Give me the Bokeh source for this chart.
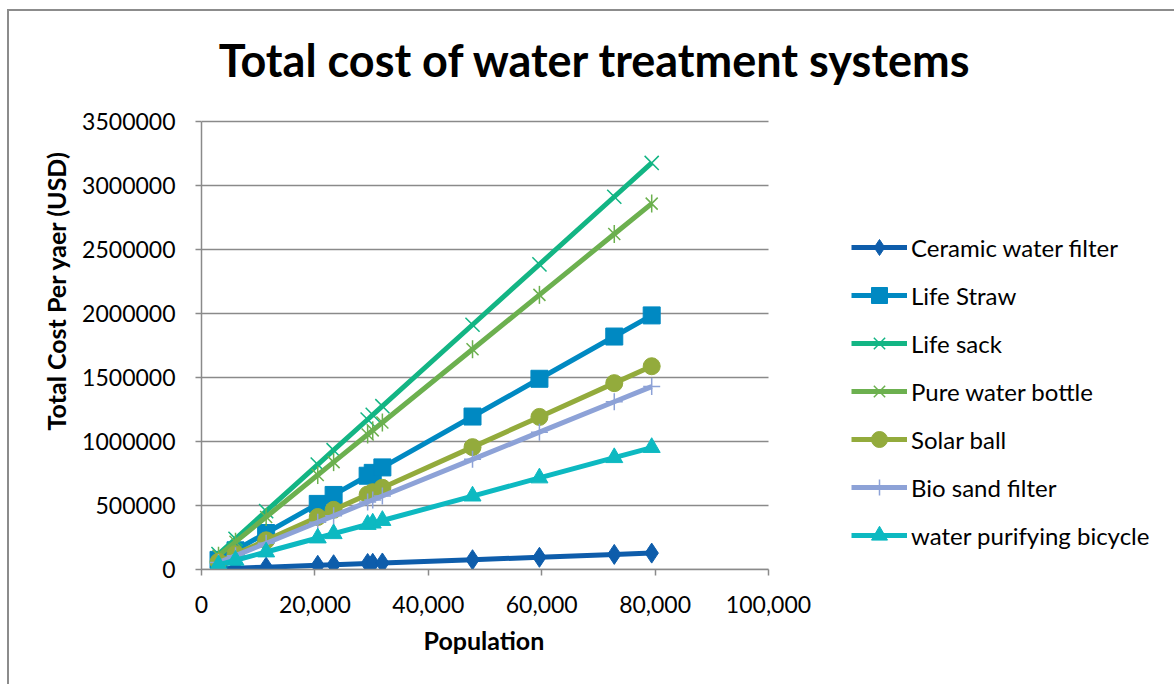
import numpy as np
from bokeh.plotting import figure
from bokeh.models import (Range1d, FixedTicker, NumeralTickFormatter, BasicTickFormatter,
                          Legend, LegendItem, Title, Label)
from bokeh.embed import file_html
from bokeh.resources import INLINE

# Population served (x) and yearly total cost (USD) per treatment system
population = [3000, 6000, 11400, 20500, 23300, 29300, 30200, 31900, 47800, 59600, 72800, 79400]

ceramic_water_filter = [4800, 9600, 18200, 32800, 37300, 46900, 48300, 51000, 76500, 95400, 118000, 128000]
life_straw = [75000, 150000, 285000, 512500, 582500, 732500, 755000, 797500, 1195000, 1490000, 1820000, 1985000]
life_sack = [120000, 240000, 456000, 820000, 932000, 1172000, 1208000, 1276000, 1912000, 2384000, 2912000, 3176000]
pure_water_bottle = [108000, 216000, 410400, 738000, 838800, 1054800, 1087200, 1148400, 1720800, 2145600, 2620800, 2858400]
solar_ball = [60000, 120000, 228000, 410000, 466000, 586000, 604000, 638000, 956000, 1192000, 1456000, 1588000]
bio_sand_filter = [54000, 108000, 205200, 369000, 419400, 527400, 543600, 574200, 860400, 1072800, 1310400, 1429200]
water_purifying_bicycle = [36000, 72000, 136800, 246000, 279600, 351600, 362400, 382800, 573600, 715200, 873600, 952800]

x_ticks = [0, 20000, 40000, 60000, 80000, 100000]
y_ticks = [0, 500000, 1000000, 1500000, 2000000, 2500000, 3000000, 3500000]

FONT = "Lato"
GRID = "#8a8a8a"

# Layout in pixels: the data area spans 567 px for 100,000 people and
# 448 px for 3,500,000 USD; the drawing frame is extended to the right and
# top edges so the legend and the heading can live inside it.
PLOT_W, PLOT_H = 1167, 675
LEFT, BOTTOM = 192, 117
DATA_W, DATA_H = 567, 448
px_x = DATA_W / x_ticks[-1]
px_y = DATA_H / y_ticks[-1]
frame_w = PLOT_W - LEFT
frame_h = PLOT_H - BOTTOM

p = figure(width=PLOT_W, height=PLOT_H, output_backend="svg", toolbar_location=None, title=None,
           x_range=Range1d(0, frame_w / px_x), y_range=Range1d(0, frame_h / px_y),
           min_border_left=LEFT, min_border_right=0, min_border_top=0, min_border_bottom=BOTTOM)
# outer chart border
p.styles = {"margin-left": "7px", "margin-top": "9px",
            "border-left": "2px solid #8c8c8c", "border-top": "2px solid #8c8c8c"}
p.outline_line_color = None
p.background_fill_color = "white"
p.border_fill_color = "white"

# heading, centred over the whole chart
p.add_layout(Label(x=(586 - LEFT) / px_x, y=(frame_h - 48) / px_y,
                   text="Total cost of water treatment systems",
                   text_font=FONT, text_font_style="bold", text_font_size="45px",
                   text_color="black", text_align="center", text_baseline="middle"))

# axes
p.xaxis.ticker = FixedTicker(ticks=x_ticks)
p.yaxis.ticker = FixedTicker(ticks=y_ticks)
p.xaxis.bounds = (x_ticks[0], x_ticks[-1])
p.yaxis.bounds = (y_ticks[0], y_ticks[-1])
p.xaxis.formatter = NumeralTickFormatter(format="0,0")
p.yaxis.formatter = BasicTickFormatter(use_scientific=False)
for ax in (p.xaxis[0], p.yaxis[0]):
    ax.axis_line_color = GRID
    ax.axis_line_width = 1.5
    ax.major_tick_line_color = GRID
    ax.major_tick_line_width = 1.5
    ax.major_tick_in = 0
    ax.major_tick_out = 6
    ax.minor_tick_line_color = None
    ax.major_label_text_font = FONT
    ax.major_label_text_font_size = "23px"
    ax.major_label_text_color = "black"
    ax.axis_label_text_font = FONT
    ax.axis_label_text_font_style = "bold"
    ax.axis_label_text_font_size = "25px"
    ax.axis_label_text_color = "black"
p.yaxis.axis_label = "Total Cost Per yaer (USD)"
p.xaxis.major_label_standoff = 20
p.yaxis.major_label_standoff = 20
p.yaxis.axis_label_standoff = 8

p.add_layout(Title(text="Population", align="left", offset=222, standoff=15,
                   text_font=FONT, text_font_style="bold", text_font_size="25px",
                   text_color="black"), "below")

# horizontal gridlines across the data area only
p.xgrid.grid_line_color = None
p.ygrid.grid_line_color = None
p.segment(x0=x_ticks[0], x1=x_ticks[-1], y0=y_ticks, y1=y_ticks,
          line_color=GRID, line_width=1.5)

LW = 5
series = [
    ("Ceramic water filter", ceramic_water_filter, "#0e5dab"),
    ("Life Straw", life_straw, "#0089c2"),
    ("Life sack", life_sack, "#13b584"),
    ("Pure water bottle", pure_water_bottle, "#6cb04f"),
    ("Solar ball", solar_ball, "#93ab3c"),
    ("Bio sand filter", bio_sand_filter, "#8da2d7"),
    ("water purifying bicycle", water_purifying_bicycle, "#0db9c1"),
]

items = []
for name, vals, col in series:
    rs = [p.line(population, vals, line_color=col, line_width=LW)]
    if name == "Ceramic water filter":
        rs.append(p.scatter(population, vals, marker="diamond", size=20,
                            fill_color=col, line_color=col))
    elif name == "Life Straw":
        rs.append(p.scatter(population, vals, marker="square", size=17,
                            fill_color=col, line_color=col))
    elif name == "Life sack":
        rs.append(p.scatter(population, vals, marker="x", size=20,
                            line_color=col, line_width=1.5))
    elif name == "Pure water bottle":
        rs.append(p.scatter(population, vals, marker="x", size=17,
                            line_color=col, line_width=1.5))
        rs.append(p.scatter(population, vals, marker="dash", angle=np.pi / 2, size=18,
                            line_color=col, line_width=1.5))
    elif name == "Solar ball":
        rs.append(p.scatter(population, vals, marker="circle", size=17,
                            fill_color=col, line_color=col))
    elif name == "Bio sand filter":
        rs.append(p.scatter(population, vals, marker="cross", size=17,
                            line_color=col, line_width=1.5))
    else:
        rs.append(p.scatter(population, vals, marker="triangle", size=17,
                            fill_color=col, line_color=col))
    items.append(LegendItem(label=name, renderers=rs))

legend = Legend(items=items, location=(650, 14), border_line_color=None,
                background_fill_alpha=0, padding=0, margin=0,
                label_text_font=FONT, label_text_font_size="24px", label_text_color="black",
                glyph_width=56, glyph_height=40, label_height=40, spacing=8, label_standoff=4)
p.add_layout(legend, "center")

open("out.html", "w").write(file_html(p, INLINE))
